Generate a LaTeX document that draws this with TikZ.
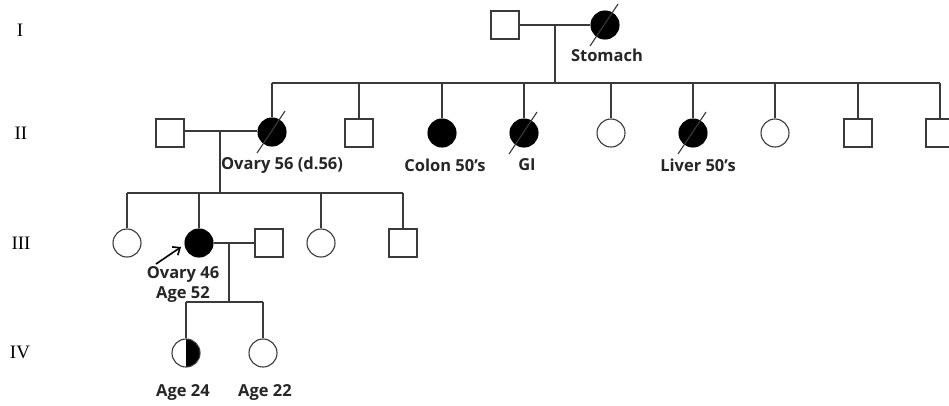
\documentclass[tikz,border=0pt]{standalone}
\usepackage{fontspec}
\setmainfont{Liberation Serif}
\newfontfamily\lblfont{Open Sans}
\usetikzlibrary{calc,arrows.meta}
\definecolor{lc}{HTML}{3A3A3A}
\definecolor{txt}{HTML}{262626}
\begin{document}
\begin{tikzpicture}[x=1pt,y=-1pt,
  male/.style={rectangle,draw=lc,fill=white,line width=1.1pt,minimum size=28pt,inner sep=0pt},
  female/.style={circle,draw=lc,fill=white,line width=1.1pt,minimum size=28pt,inner sep=0pt},
  affected/.style={fill=black,draw=black},
  halfaff/.style={path picture={\fill[black] (path picture bounding box.north) rectangle (path picture bounding box.south east);}},
  lbl/.style={font=\lblfont\bfseries\fontsize{16.5}{19}\selectfont,text=txt,inner sep=0pt},
  gen/.style={font=\fontsize{19}{22}\selectfont,inner sep=0pt},
  rel/.style={draw=lc,line width=1.1pt},
  slash/.style={draw=lc,line width=1.1pt}]
\fill[white] (0,0) rectangle (949,405);
\useasboundingbox (0,0) rectangle (949,405);

% generation labels
\node[gen] (gI) at (20,30) {I};
\node[gen] (gII) at (21,133) {II};
\node[gen] (gIII) at (21,243) {III};
\node[gen] (gIV) at (20,352) {IV};

% ---------- coordinates of line junctions
\coordinate (c1) at (555,25);
\coordinate (s1) at (555,83);
\coordinate (c2) at (220,131);
\coordinate (s2) at (220,193);
\coordinate (c3) at (229,243);
\coordinate (s3) at (229,302);

% ---------- generation I
\node[male] (i1) at (505,25) {};
\node[female,affected] (i2) at (605,25) {};
\draw[rel] (i1.east) -- (i2.west);
\draw[rel] (c1) -- (s1);

% ---------- generation II
\node[male] (ii0) at (170,133) {};
\node[female,affected] (ii1) at (272,132) {};
\node[male] (ii2) at (359,133) {};
\node[female,affected] (ii3) at (442,133) {};
\node[female,affected] (ii4) at (524,133) {};
\node[female] (ii5) at (611,133) {};
\node[female,affected] (ii6) at (693,133) {};
\node[female] (ii7) at (775,133) {};
\node[male] (ii8) at (858,133) {};
\node[male] (ii9) at (940,133) {};
\draw[rel] (ii1.north |- s1) -- (ii9.north |- s1);
\foreach \n in {ii1,ii2,ii3,ii4,ii5,ii6,ii7,ii8,ii9}
  \draw[rel] (\n.north |- s1) -- (\n.north);
\draw[rel] (ii0.east |- c2) -- (ii1.west |- c2);
\draw[rel] (c2) -- (s2);

% ---------- generation III
\node[female] (iii1) at (127,243) {};
\node[female,affected] (iii2) at (199,243) {};
\node[male] (iii3) at (269,243) {};
\node[female] (iii4) at (321,243) {};
\node[male] (iii5) at (403,243) {};
\draw[rel] (iii1.north |- s2) -- (iii5.north |- s2);
\foreach \n in {iii1,iii2,iii4,iii5}
  \draw[rel] (\n.north |- s2) -- (\n.north);
\draw[rel] (iii2.east) -- (iii3.west);
\draw[rel] (c3) -- (s3);

% ---------- generation IV
\node[female,halfaff] (iv1) at (186,353) {};
\node[female] (iv2) at (263,353) {};
\draw[rel] (iv1.north |- s3) -- (iv2.north |- s3);
\foreach \n in {iv1,iv2}
  \draw[rel] (\n.north |- s3) -- (\n.north);

% ---------- deceased slashes
\foreach \n in {i2,ii1,ii4,ii6}
  \draw[slash] ($(\n)+(-15,21)$) -- ($(\n)+(13,-21)$);

% ---------- proband arrow
\coordinate (arrtail) at (156,264);
\draw[draw=black,line width=1.6pt,-{Straight Barb[length=6pt,width=10pt]}] (arrtail) -- ($(arrtail)!1!(181,247)$);

% ---------- labels
\node[lbl] (lstomach) at (607,55) {Stomach};
\node[lbl] (lovary56) at (282,165) {Ovary 56 (d.56)};
\node[lbl] (lcolon) at (445,165) {Colon 50’s};
\node[lbl] (lgi) at (527,165) {GI};
\node[lbl] (lliver) at (698,165) {Liver 50’s};
\node[lbl] (lovary46) at (183,274) {Ovary 46};
\node[lbl] (lage52) at (183,294) {Age 52};
\node[lbl] (lage24) at (183,392) {Age 24};
\node[lbl] (lage22) at (265,392) {Age 22};
\end{tikzpicture}
\end{document}
